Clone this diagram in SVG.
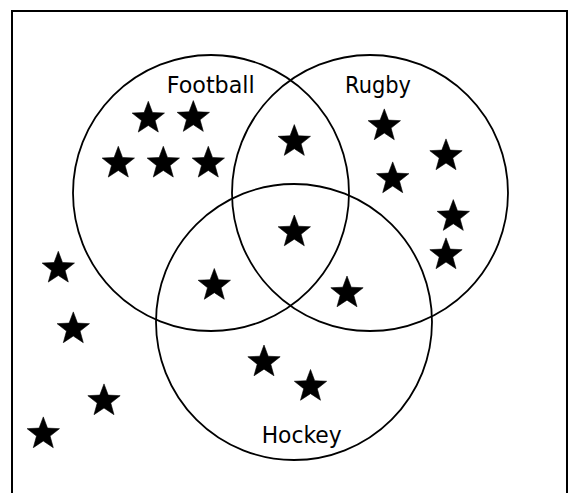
<svg xmlns="http://www.w3.org/2000/svg" xmlns:xlink="http://www.w3.org/1999/xlink" width="579" height="493" viewBox="0 0 579 493">
<style>
.set{fill:none;stroke:#000;stroke-width:1.8}
.lbl{font-family:"DejaVu Sans",sans-serif;font-size:23px;fill:#000}
.star{fill:#000}
</style>
<defs>
<path id="star" d="M0,-17 L4.2,-5.78 L16.17,-5.25 L6.79,2.21 L9.99,13.75 L0,7.14 L-9.99,13.75 L-6.79,2.21 L-16.17,-5.25 L-4.2,-5.78 Z" stroke="#000" stroke-width="0.6" stroke-linejoin="round"/>
</defs>
<rect x="0" y="0" width="579" height="493" fill="#fff"/>
<rect id="frame" x="12" y="11" width="555" height="495" fill="none" stroke="#000" stroke-width="2"/>
<g id="football">
<circle class="set" cx="211" cy="193" r="138"/>
<text class="lbl" x="166.7" y="93" textLength="88" lengthAdjust="spacingAndGlyphs">Football</text>
</g>
<g id="rugby">
<circle class="set" cx="370" cy="193" r="138"/>
<text class="lbl" x="345" y="93" textLength="66" lengthAdjust="spacingAndGlyphs">Rugby</text>
</g>
<g id="hockey">
<circle class="set" cx="294" cy="322" r="138"/>
<text class="lbl" x="261.7" y="443" textLength="80" lengthAdjust="spacingAndGlyphs">Hockey</text>
</g>
<g id="connectors"></g>
<g id="stars" class="star">
<use xlink:href="#star" href="#star" x="148.3" y="118.3"/>
<use xlink:href="#star" href="#star" x="193.3" y="117.6"/>
<use xlink:href="#star" href="#star" x="118.3" y="163.3"/>
<use xlink:href="#star" href="#star" x="163.3" y="163.3"/>
<use xlink:href="#star" href="#star" x="208.3" y="163.3"/>
<use xlink:href="#star" href="#star" x="294.3" y="141.6"/>
<use xlink:href="#star" href="#star" x="294.3" y="232"/>
<use xlink:href="#star" href="#star" x="214.3" y="285.5"/>
<use xlink:href="#star" href="#star" x="347" y="293"/>
<use xlink:href="#star" href="#star" x="264" y="362"/>
<use xlink:href="#star" href="#star" x="310.5" y="386.5"/>
<use xlink:href="#star" href="#star" x="384.3" y="125.9"/>
<use xlink:href="#star" href="#star" x="446" y="155.9"/>
<use xlink:href="#star" href="#star" x="392.7" y="178.9"/>
<use xlink:href="#star" href="#star" x="453.3" y="216.6"/>
<use xlink:href="#star" href="#star" x="446" y="254.9"/>
<use xlink:href="#star" href="#star" x="58.3" y="268.3"/>
<use xlink:href="#star" href="#star" x="73.3" y="328.9"/>
<use xlink:href="#star" href="#star" x="104" y="400.9"/>
<use xlink:href="#star" href="#star" x="43.3" y="433.9"/>
</g>
</svg>
